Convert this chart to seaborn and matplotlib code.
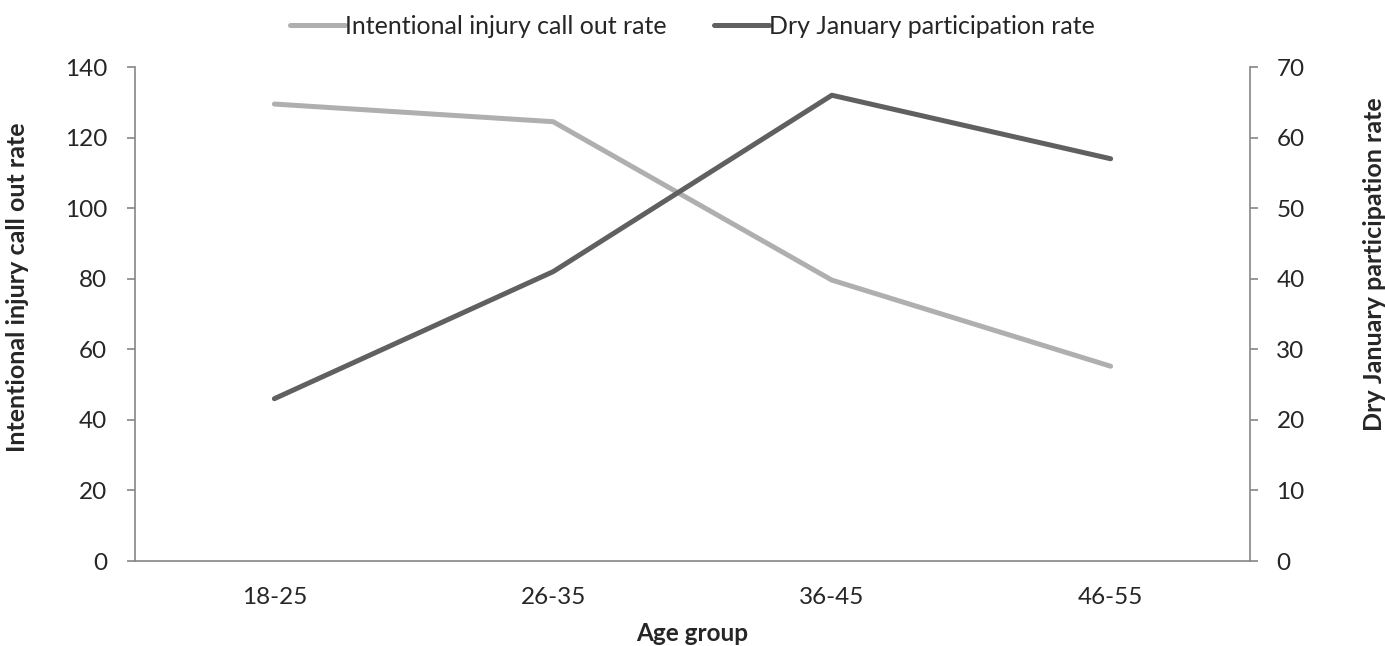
import matplotlib
matplotlib.use("Agg")
import matplotlib.pyplot as plt
import seaborn as sns
import pandas as pd
from matplotlib.ticker import FixedLocator, NullFormatter

age_groups = ["18-25", "26-35", "36-45", "46-55"]
injury_rate = [129.5, 124.5, 79.6, 55.2]
dry_january_rate = [23, 41, 66, 57]

left_ticks = [0, 20, 40, 60, 80, 100, 120, 140]
right_ticks = [0, 10, 20, 30, 40, 50, 60, 70]

sns.set_style("white")
plt.rcParams['font.family'] = ['Lato', 'DejaVu Sans']

df = pd.DataFrame({"age": age_groups, "injury": injury_rate, "dry": dry_january_rate})
df["pos"] = range(len(age_groups))

fig = plt.figure(figsize=(13.85, 6.46), dpi=100)
ax = fig.add_axes([135/1385, 1-561/646, (1250-135)/1385, (561-67)/646])
ax2 = ax.twinx()

light = "#AFAFAF"
dark = "#606060"
spine_c = "#868686"
fs = 17.5

sns.lineplot(data=df, x="pos", y="injury", ax=ax, color=light, linewidth=3.6,
             sort=False, label="Intentional injury call out rate", legend=False,
             solid_capstyle="round")
sns.lineplot(data=df, x="pos", y="dry", ax=ax2, color=dark, linewidth=3.6,
             sort=False, label="Dry January participation rate", legend=False,
             solid_capstyle="round")

ax.set_xlim(-0.5, len(age_groups) - 0.5)
ax.set_ylim(0, 140)
ax2.set_ylim(0, 70)
ax.set_yticks(left_ticks)
ax2.set_yticks(right_ticks)

# x ticks: marks at boundaries, labels at centers
ax.xaxis.set_major_locator(FixedLocator([i - 0.5 for i in range(len(age_groups) + 1)]))
ax.xaxis.set_major_formatter(NullFormatter())
ax.xaxis.set_minor_locator(FixedLocator(list(range(len(age_groups)))))
ax.set_xticklabels(age_groups, minor=True)
ax.tick_params(axis="x", which="major", direction="out", length=6, color=spine_c, width=1.2)
ax.tick_params(axis="x", which="minor", length=0, labelsize=fs, pad=19)

ax.tick_params(axis="y", direction="out", length=6, color=spine_c, width=1.2, labelsize=fs, pad=14)
ax2.tick_params(axis="y", direction="out", length=6, color=spine_c, width=1.2, labelsize=fs, pad=13)

for a in (ax, ax2):
    a.spines["top"].set_visible(False)
    for s in ("left", "right", "bottom"):
        a.spines[s].set_color(spine_c)
        a.spines[s].set_linewidth(1.2)
    a.grid(False)
ax.spines["right"].set_visible(False)
ax2.spines["left"].set_visible(False)
ax2.spines["bottom"].set_visible(False)

ax.set_xlabel("Age group", fontsize=fs, fontweight="bold", va="center")
ax.xaxis.set_label_coords(0.5, -0.146)
ax.set_ylabel("Intentional injury call out rate", fontsize=18, fontweight="bold", va="center")
ax.yaxis.set_label_coords(-0.105, 0.555)
ax2.set_ylabel("Dry January participation rate", fontsize=18, fontweight="bold", va="center")
ax2.yaxis.set_label_coords(1.112, 0.6)

h1, l1 = ax.get_legend_handles_labels()
h2, l2 = ax2.get_legend_handles_labels()
fig.legend(h1 + h2, l1 + l2, loc="upper center", bbox_to_anchor=(0.5, 1.0), ncol=2,
           frameon=False, fontsize=18, handlelength=2.2, handletextpad=0.0,
           columnspacing=1.9, borderaxespad=0.2)

fig.savefig("out.png", dpi=100, facecolor="white")
